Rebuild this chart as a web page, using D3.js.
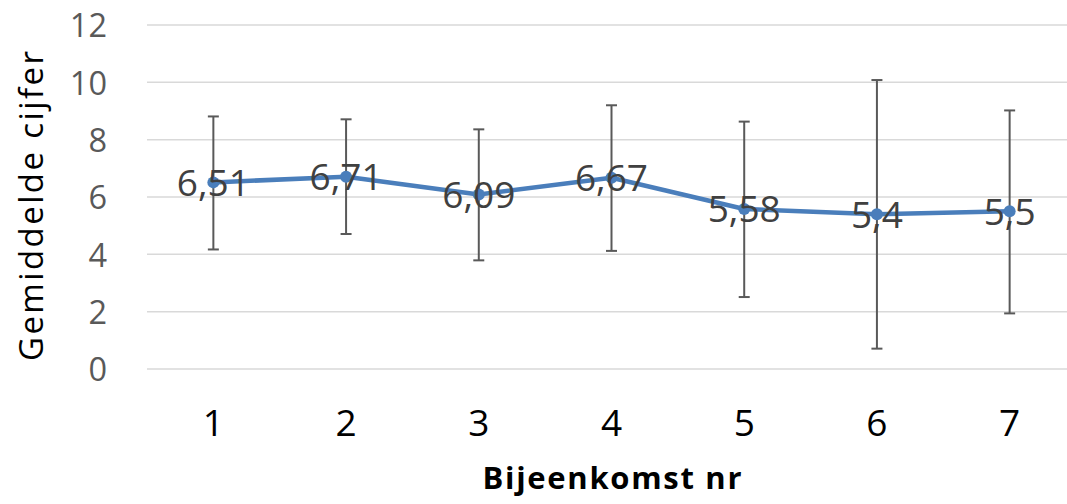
<!DOCTYPE html>
<html>
<head>
<meta charset="utf-8">
<script src="https://cdn.jsdelivr.net/npm/d3@7"></script>
<style>
  html, body { margin: 0; padding: 0; background: #fff; }
  svg { display: block; }
</style>
</head>
<body>
<svg id="chart" width="1067" height="504"></svg>
<script>
const categories = ["1", "2", "3", "4", "5", "6", "7"];
const means = [6.51, 6.71, 6.09, 6.67, 5.58, 5.4, 5.5];
const meanLabels = ["6,51", "6,71", "6,09", "6,67", "5,58", "5,4", "5,5"];
const errLow = [4.17, 4.71, 3.79, 4.12, 2.51, 0.71, 1.94];
const errHigh = [8.81, 8.71, 8.36, 9.20, 8.63, 10.08, 9.02];
const yTicks = [0, 2, 4, 6, 8, 10, 12];
const yTitle = "Gemiddelde cijfer";
const xTitle = "Bijeenkomst nr";

const svg = d3.select("#chart");
const font = "'Open Sans', 'Liberation Sans', sans-serif";
const plotLeft = 147, plotRight = 1076, plotTop = 25, plotBottom = 369;

const x = d3.scaleBand().domain(categories).range([plotLeft, plotRight]);
const y = d3.scaleLinear().domain([0, 12]).range([plotBottom, plotTop]);
const cx = c => x(c) + x.bandwidth() / 2;

// gridlines
svg.append("g").selectAll("line").data(yTicks).join("line")
  .attr("x1", plotLeft).attr("x2", plotRight)
  .attr("y1", d => y(d)).attr("y2", d => y(d))
  .attr("stroke", "#d9d9d9").attr("stroke-width", 1.5);

// y axis labels
const yAxis = d3.axisLeft(y).tickValues(yTicks).tickSize(0).tickPadding(0);
const gy = svg.append("g").attr("transform", `translate(107,0)`).call(yAxis);
gy.select(".domain").remove();
gy.selectAll("text").attr("font-family", font).attr("font-size", 32.5)
  .attr("fill", "#595959").attr("dy", "0.36em");

// x axis labels
const xAxis = d3.axisBottom(x).tickSize(0).tickPadding(0);
const gx = svg.append("g").attr("transform", `translate(0,${plotBottom})`).call(xAxis);
gx.select(".domain").remove();
gx.selectAll("text").attr("font-family", font).attr("font-size", 37)
  .attr("fill", "#000").attr("dy", null).attr("y", 67);

// error bars
const eb = svg.append("g").attr("stroke", "#595959").attr("stroke-width", 2);
categories.forEach((c, i) => {
  eb.append("line").attr("x1", cx(c)).attr("x2", cx(c)).attr("y1", y(errLow[i])).attr("y2", y(errHigh[i]));
  eb.append("line").attr("x1", cx(c) - 5.5).attr("x2", cx(c) + 5.5).attr("y1", y(errLow[i])).attr("y2", y(errLow[i]));
  eb.append("line").attr("x1", cx(c) - 5.5).attr("x2", cx(c) + 5.5).attr("y1", y(errHigh[i])).attr("y2", y(errHigh[i]));
});

// line
const line = d3.line().x((d, i) => cx(categories[i])).y(d => y(d));
svg.append("path").datum(means).attr("d", line)
  .attr("fill", "none").attr("stroke", "#4a7ebb").attr("stroke-width", 4.5)
  .attr("stroke-linejoin", "round").attr("stroke-linecap", "round");

svg.append("g").selectAll("circle").data(means).join("circle")
  .attr("cx", (d, i) => cx(categories[i])).attr("cy", d => y(d)).attr("r", 6)
  .attr("fill", "#4a7ebb");

// data labels
svg.append("g").selectAll("text").data(means).join("text")
  .attr("x", (d, i) => cx(categories[i])).attr("y", d => y(d))
  .attr("dy", "0.36em").attr("text-anchor", "middle")
  .attr("font-family", font).attr("font-size", 37).attr("fill", "#404040")
  .text((d, i) => meanLabels[i]);

// titles
svg.append("text").attr("transform", `translate(43,206) rotate(-90)`)
  .attr("text-anchor", "middle").attr("font-family", font).attr("font-size", 33)
  .attr("textLength", 310).attr("lengthAdjust", "spacing")
  .attr("fill", "#000").text(yTitle);

svg.append("text").attr("x", 612).attr("y", 489)
  .attr("text-anchor", "middle").attr("font-family", font).attr("font-size", 31)
  .attr("textLength", 259).attr("lengthAdjust", "spacing")
  .attr("font-weight", "bold").attr("fill", "#000").text(xTitle);
</script>
</body>
</html>
